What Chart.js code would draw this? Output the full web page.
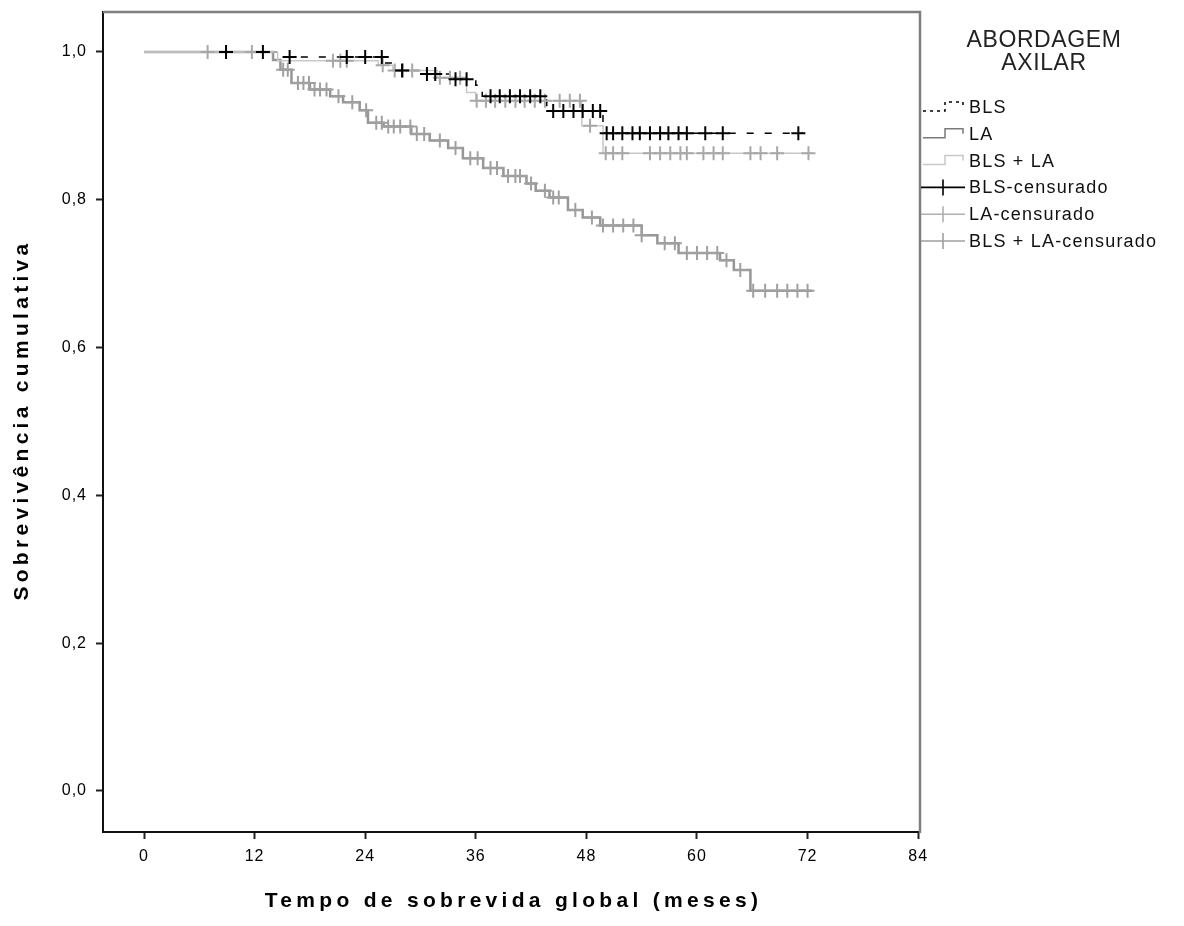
<!DOCTYPE html>
<html>
<head>
<meta charset="utf-8">
<script src="https://cdn.jsdelivr.net/npm/chart.js@4.4.0/dist/chart.umd.min.js"></script>
<style>
  html, body { margin: 0; padding: 0; background: #fff; }
</style>
</head>
<body>
<canvas id="kmChart" width="1184" height="926"></canvas>
<script>
// Kaplan-Meier steps (time in months, cumulative survival)
const blsTimes = [0, 15.0, 26.0, 27.2, 30.5, 33.2, 36.0, 36.7, 43.7, 49.8, 71.5];
const blsSurv  = [1.0, 0.993, 0.985, 0.975, 0.970, 0.963, 0.955, 0.940, 0.920, 0.890, 0.890];
const blsCensored = [8.9, 12.9, 15.8, 22.0, 24.0, 25.8, 28.0, 30.7, 31.6, 33.8, 35.0, 37.6, 38.6, 39.7,
  40.8, 41.9, 43.0, 44.4, 45.5, 46.6, 47.6, 48.7, 49.5, 50.2, 50.9, 51.9, 53.0, 53.8, 54.9, 56.0,
  56.9, 58.0, 58.9, 60.9, 62.8, 71.0];

const laTimes = [0, 14.0, 14.8, 16.0, 18.0, 20.2, 21.6, 23.4, 24.3, 26.0, 29.0, 31.0, 33.0, 34.6, 36.8,
  39.0, 41.5, 42.5, 44.0, 46.0, 47.6, 49.5, 54.0, 55.7, 58.0, 62.5, 64.0, 65.8, 72.5];
const laSurv  = [1.0, 0.989, 0.976, 0.958, 0.949, 0.940, 0.932, 0.921, 0.904, 0.899, 0.889, 0.880, 0.870,
  0.856, 0.843, 0.832, 0.822, 0.812, 0.803, 0.786, 0.776, 0.765, 0.752, 0.741, 0.728, 0.718, 0.705, 0.677, 0.677];
const laCensored = [15.1, 15.6, 16.7, 17.3, 17.9, 18.5, 19.1, 19.8, 21.1, 22.6, 24.1, 25.2, 25.8, 26.5,
  27.1, 27.8, 28.9, 29.6, 30.4, 32.1, 33.8, 35.4, 36.2, 37.6, 38.3, 39.5, 40.3, 40.8, 42.0, 43.5, 44.4,
  45.0, 46.8, 48.6, 49.8, 50.9, 52.0, 53.1, 54.0, 56.5, 57.6, 58.9, 60.0, 61.1, 62.2, 63.2, 64.7, 66.1,
  67.4, 68.7, 69.8, 70.9, 72.0];

const blsLaTimes = [0, 14.5, 25.4, 27.0, 31.8, 35.0, 36.0, 47.5, 49.8, 72.5];
const blsLaSurv  = [1.0, 0.988, 0.982, 0.975, 0.965, 0.945, 0.934, 0.900, 0.863, 0.863];
const blsLaCensored = [6.9, 11.7, 20.5, 21.3, 22.0, 25.9, 27.2, 28.1, 29.1, 32.1, 33.2, 34.3, 36.1, 37.1,
  38.1, 39.2, 40.3, 41.3, 42.4, 43.5, 45.1, 46.2, 47.3, 48.4, 50.1, 50.9, 51.9, 54.9, 56.0, 57.1, 58.2,
  58.9, 60.7, 61.8, 62.8, 65.8, 66.9, 68.7, 72.1];

const xTicks = [0, 12, 24, 36, 48, 60, 72, 84];
const yTicks = [0, 0.2, 0.4, 0.6, 0.8, 1.0];

const legendTitle = ['ABORDAGEM', 'AXILAR'];
const legendItems = [
  { label: 'BLS', kind: 'step', color: '#000000', dash: [3, 4] },
  { label: 'LA', kind: 'step', color: '#7a7a7a', dash: [] },
  { label: 'BLS + LA', kind: 'step', color: '#c8c8c8', dash: [] },
  { label: 'BLS-censurado', kind: 'cross', color: '#000000' },
  { label: 'LA-censurado', kind: 'cross', color: '#b0b0b0' },
  { label: 'BLS + LA-censurado', kind: 'cross', color: '#a0a0a0' }
];

const FONT = "'Liberation Sans', Arial, sans-serif";

function steps(times, surv) {
  return times.map((t, i) => ({ x: t, y: surv[i] }));
}
// survival value of a step curve at a censoring time
function survAt(times, surv, t) {
  let s = surv[0];
  for (let i = 0; i < times.length; i++) if (times[i] <= t) s = surv[i];
  return s;
}
function marks(cens, times, surv) {
  return cens.map(t => ({ x: t, y: survAt(times, surv, t) }));
}

function crossSet(label, data, color) {
  return {
    type: 'scatter', label, data,
    pointStyle: 'cross', pointRadius: 7, pointBorderWidth: 2,
    borderColor: color, backgroundColor: color, pointHoverRadius: 7
  };
}
function lineSet(label, data, color, width, dash) {
  return {
    type: 'line', label, data, stepped: true, fill: false,
    borderColor: color, borderWidth: width, borderDash: dash,
    pointRadius: 0, tension: 0
  };
}

// frame (gray top/right), axis titles and legend
const extras = {
  id: 'extras',
  beforeDraw(chart) {
    // slightly spaced tick labels, like the original
    chart.ctx.letterSpacing = '1px';
  },
  afterDraw(chart) {
    const { ctx, chartArea: a } = chart;
    ctx.save();
    ctx.strokeStyle = '#7f7f7f';
    ctx.lineWidth = 2.5;
    ctx.beginPath();
    ctx.moveTo(a.left, a.top);
    ctx.lineTo(a.right, a.top);
    ctx.lineTo(a.right, a.bottom + 1);
    ctx.stroke();

    // axis titles
    ctx.fillStyle = '#000';
    ctx.font = 'bold 21px ' + FONT;
    ctx.letterSpacing = '4.3px';
    ctx.textAlign = 'center';
    ctx.textBaseline = 'middle';
    ctx.fillText('Tempo de sobrevida global (meses)', (a.left + a.right) / 2 + 2, 901);
    ctx.save();
    ctx.translate(22, (a.top + a.bottom) / 2);
    ctx.rotate(-Math.PI / 2);
    ctx.fillText('Sobrevivência cumulativa', 2, 0);
    ctx.restore();

    // legend
    ctx.fillStyle = '#222';
    ctx.font = '23px ' + FONT;
    ctx.letterSpacing = '0.6px';
    legendTitle.forEach((t, i) => ctx.fillText(t, 1044, 41 + i * 23));
    ctx.font = '18px ' + FONT;
    ctx.letterSpacing = '1.2px';
    ctx.textAlign = 'left';
    legendItems.forEach((it, i) => {
      const y = 107 + i * 26.8;
      ctx.strokeStyle = it.color;
      if (it.kind === 'step') {
        ctx.lineWidth = 1.5;
        ctx.setLineDash(it.dash);
        ctx.beginPath();
        ctx.moveTo(923, y + 4);
        ctx.lineTo(945, y + 4);
        ctx.lineTo(945, y - 5);
        ctx.lineTo(963, y - 5);
        ctx.lineTo(963, y);
        ctx.stroke();
        ctx.setLineDash([]);
      } else {
        ctx.lineWidth = 1.6;
        ctx.beginPath();
        ctx.moveTo(921, y);
        ctx.lineTo(965, y);
        ctx.moveTo(943, y - 8);
        ctx.lineTo(943, y + 8);
        ctx.stroke();
      }
      ctx.fillStyle = '#111';
      ctx.fillText(it.label, 969, y + 1);
    });
    ctx.restore();
  }
};

new Chart(document.getElementById('kmChart'), {
  data: {
    datasets: [
      crossSet('BLS-censurado', marks(blsCensored, blsTimes, blsSurv), '#000000'),
      crossSet('LA-censurado', marks(laCensored, laTimes, laSurv), '#a0a0a0'),
      crossSet('BLS + LA-censurado', marks(blsLaCensored, blsLaTimes, blsLaSurv), '#a8a8a8'),
      lineSet('BLS + LA', steps(blsLaTimes, blsLaSurv), '#c8c8c8', 1.5, []),
      lineSet('LA', steps(laTimes, laSurv), '#969696', 2.5, []),
      lineSet('BLS', steps(blsTimes, blsSurv), '#000000', 1.5, [7, 11])
    ]
  },
  options: {
    responsive: false,
    animation: false,
    layout: { padding: { left: 0, right: 264, top: 12, bottom: 0 } },
    plugins: { legend: { display: false }, tooltip: { enabled: false } },
    scales: {
      x: {
        type: 'linear', min: -4.45, max: 84.2,
        afterBuildTicks: s => { s.ticks = xTicks.map(v => ({ value: v })); },
        afterFit: s => { s.height = 94; s.paddingLeft = 0; s.paddingRight = 0; },
        ticks: { autoSkip: false, maxRotation: 0, padding: 8, color: '#000',
          font: { family: FONT, size: 16 }, callback: v => String(v) },
        grid: { drawOnChartArea: false, drawTicks: true, tickLength: 7, tickWidth: 2, tickColor: '#222' },
        border: { color: '#111', width: 2 }
      },
      y: {
        type: 'linear', min: -0.0555, max: 1.054,
        afterBuildTicks: s => { s.ticks = yTicks.map(v => ({ value: v })); },
        afterFit: s => { s.width = 103; s.paddingTop = 0; s.paddingBottom = 0; },
        ticks: { autoSkip: false, padding: 9, color: '#000',
          font: { family: FONT, size: 16 }, callback: v => v.toFixed(1).replace('.', ',') },
        grid: { drawOnChartArea: false, drawTicks: true, tickLength: 7, tickWidth: 2, tickColor: '#222' },
        border: { color: '#111', width: 2 }
      }
    }
  },
  plugins: [extras]
});
</script>
</body>
</html>
